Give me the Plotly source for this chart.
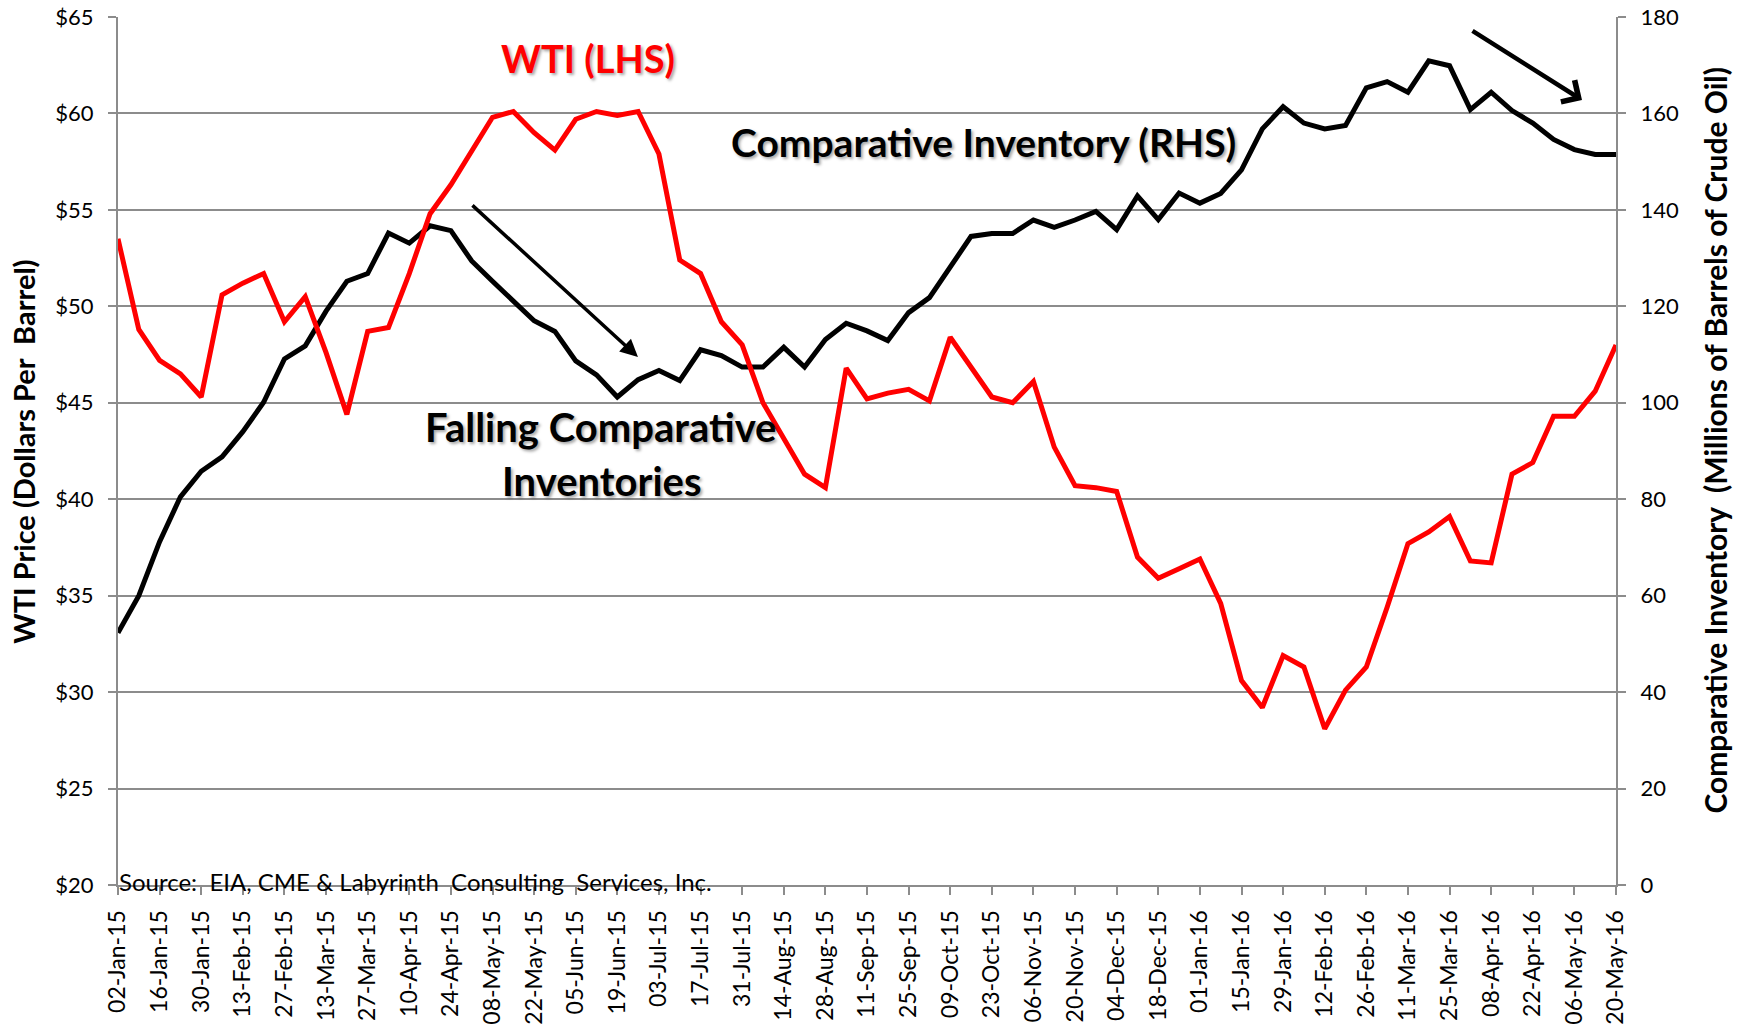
import pandas as pd
import plotly.graph_objects as go

# Weekly dates (Fridays) 02-Jan-15 .. 20-May-16
weeks = list(pd.date_range("2015-01-02", periods=73, freq="7D").strftime("%d-%b-%y"))
tick_labels = weeks[::2]

wti_price = [53.5, 48.8, 47.2, 46.5, 45.3, 50.6, 51.2, 51.7, 49.2, 50.5,
             47.6, 44.4, 48.7, 48.9, 51.7, 54.8, 56.3, 58.0, 59.8, 60.1,
             59.0, 58.1, 59.7, 60.1, 59.9, 60.1, 57.9, 52.4, 51.7, 49.2,
             48.0, 45.0, 43.1, 41.3, 40.6, 46.8, 45.2, 45.5, 45.7, 45.1,
             48.4, 46.9, 45.3, 45.0, 46.1, 42.7, 40.7, 40.6, 40.4, 37.0,
             35.9, 36.4, 36.9, 34.6, 30.6, 29.2, 31.9, 31.3, 28.1, 30.1,
             31.3, 34.4, 37.7, 38.3, 39.1, 36.8, 36.7, 41.3, 41.9, 44.3,
             44.3, 45.6, 48.0]

comparative_inventory = [52.3, 60.0, 71.2, 80.5, 85.8, 88.8, 94.0, 100.1, 109.1, 111.8,
                         119.0, 125.2, 126.8, 135.2, 133.1, 136.7, 135.7, 129.4, 125.2, 121.1,
                         117.0, 114.8, 108.7, 105.8, 101.2, 104.8, 106.7, 104.6, 111.0, 109.8,
                         107.4, 107.4, 111.5, 107.4, 113.1, 116.5, 114.9, 112.9, 118.7, 121.8,
                         128.3, 134.5, 135.1, 135.1, 137.9, 136.4, 137.9, 139.7, 135.9, 142.9,
                         138.0, 143.5, 141.4, 143.4, 148.3, 156.8, 161.4, 158.0, 156.8, 157.5,
                         165.3, 166.6, 164.4, 170.9, 169.9, 160.8, 164.4, 160.6, 158.0, 154.6,
                         152.5, 151.5, 151.5]

FONT = "Lato"
GRID = "#8c8c8c"

fig = go.Figure()
fig.add_trace(go.Scatter(x=weeks, y=comparative_inventory, mode="lines", name="Comparative Inventory (RHS)",
                         line=dict(color="#000000", width=5), yaxis="y"))
fig.add_trace(go.Scatter(x=weeks, y=wti_price, mode="lines", name="WTI (LHS)",
                         line=dict(color="#ff0000", width=5), yaxis="y2"))

fig.update_layout(
    width=1741, height=1029,
    margin=dict(l=118, r=125, t=17, b=144, autoexpand=False),
    plot_bgcolor="white", paper_bgcolor="white",
    showlegend=False,
    font=dict(family=FONT, color="black"),
    xaxis=dict(type="category", range=[0, len(weeks) - 1], tickmode="array",
               tickvals=tick_labels, ticktext=tick_labels, tickangle=-90,
               ticks="outside", ticklen=8, tickwidth=2, tickcolor=GRID,
               showline=True, linecolor=GRID, linewidth=2, showgrid=False,
               automargin=False, ticklabelstandoff=6,
               tickfont=dict(size=23, family=FONT)),
    yaxis=dict(side="right", range=[0, 180], dtick=20, tick0=0,
               showgrid=True, gridcolor=GRID, gridwidth=2, zeroline=False,
               ticks="outside", ticklen=8, tickwidth=2, tickcolor=GRID,
               showline=True, linecolor=GRID, linewidth=2,
               automargin=False, ticklabelstandoff=10,
               tickfont=dict(size=22, family=FONT)),
    yaxis2=dict(side="left", overlaying="y", range=[20, 65], dtick=5, tick0=20,
                tickprefix="$", showgrid=False, zeroline=False,
                ticks="outside", ticklen=8, tickwidth=2, tickcolor=GRID,
                showline=True, linecolor=GRID, linewidth=2,
                automargin=False, ticklabelstandoff=10,
                tickfont=dict(size=22, family=FONT)),
)

shadow = "2px 2px 3px rgba(0,0,0,0.35)"
ann = [
    dict(text="<b>WTI (LHS)</b>", x=0.3138, y=0.9528, font=dict(size=38, color="#ff0000", family=FONT, shadow=shadow)),
    dict(text="<b>Comparative Inventory (RHS)</b>", x=0.5778, y=0.856, font=dict(size=39, color="black", family=FONT, shadow=shadow)),
    dict(text="<b>Falling Comparative</b>", x=0.3218, y=0.5276, font=dict(size=40, color="black", family=FONT, shadow=shadow)),
    dict(text="<b>Inventories</b>", x=0.3231, y=0.4654, font=dict(size=40, color="black", family=FONT, shadow=shadow)),
]
for a in ann:
    fig.add_annotation(xref="paper", yref="paper", xanchor="center", yanchor="middle", showarrow=False, **a)

fig.add_annotation(text="Source:  EIA, CME &amp; Labyrinth  Consulting  Services, Inc.", xref="paper", yref="paper",
                   x=-0.001, y=0.004, xanchor="left", yanchor="middle", showarrow=False,
                   font=dict(size=24, color="black", family=FONT))

# axis titles
fig.add_annotation(text="<b>WTI Price (Dollars Per  Barrel)</b>", xref="paper", yref="paper",
                   x=-0.0628, y=0.499, textangle=-90, showarrow=False, xanchor="center", yanchor="middle",
                   font=dict(size=29, color="black", family=FONT))
fig.add_annotation(text="<b>Comparative Inventory  (Millions of Barrels of Crude Oil)</b>", xref="paper", yref="paper",
                   x=1.066, y=0.513, textangle=-90, showarrow=False, xanchor="center", yanchor="middle",
                   font=dict(size=30, color="black", family=FONT))

# arrows
fig.add_annotation(text="", xref="paper", yref="paper", x=0.3471, y=0.6083, ax=-167, ay=-153,
                   showarrow=True, arrowhead=2, arrowsize=1.0, arrowwidth=3.5, arrowcolor="black")
fig.add_annotation(text="", xref="paper", yref="paper", x=0.9773, y=0.9044, ax=-111, ay=-70,
                   showarrow=True, arrowhead=4, arrowsize=1.1, arrowwidth=4.5, arrowcolor="black")

fig.write_html("out.html", config={"displayModeBar": False},
               post_script="document.body.style.margin='0';")
